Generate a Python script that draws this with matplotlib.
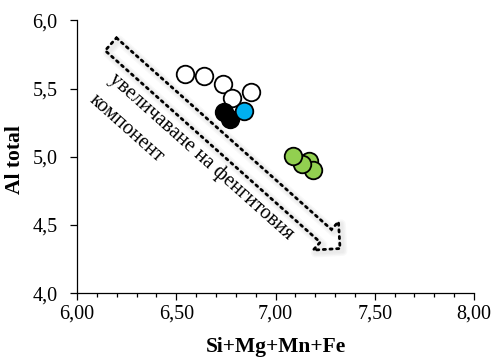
import numpy as np
import matplotlib
matplotlib.use('Agg')
import matplotlib.pyplot as plt
from matplotlib.patches import Polygon
from matplotlib.ticker import MultipleLocator, FuncFormatter

# Si+Mg+Mn+Fe vs Al total, one group per colour
openX = [6.544, 6.641, 6.737, 6.779, 6.875]
openY = [5.607, 5.592, 5.533, 5.428, 5.476]
blackX = [6.741, 6.771]
blackY = [5.327, 5.276]
blueX = [6.841]
blueY = [5.337]
greenX = [7.169, 7.187, 7.132, 7.087]
greenY = [4.966, 4.906, 4.945, 5.004]

arrowTail = (6.170, 5.826)
arrowTip = (7.325, 4.327)
arrowText = 'увеличаване на фенгитовия'
arrowText2 = 'компонент'

plt.rcParams['font.family'] = ['Liberation Serif', 'DejaVu Serif']

fig = plt.figure(figsize=(4.94, 3.57), dpi=100)
ax = fig.add_axes([0.156, 0.179, 0.8035, 0.7636])
ax.set_xlim(6.0, 8.0)
ax.set_ylim(4.0, 6.0)

for side in ['top', 'right']:
  ax.spines[side].set_visible(False)
for side in ['left', 'bottom']:
  ax.spines[side].set_linewidth(0.9)

ax.xaxis.set_major_locator(MultipleLocator(0.5))
ax.xaxis.set_minor_locator(MultipleLocator(0.1))
ax.yaxis.set_major_locator(MultipleLocator(0.5))
ax.xaxis.set_major_formatter(FuncFormatter(lambda v, p: ('%.2f' % v).replace('.', ',')))
ax.yaxis.set_major_formatter(FuncFormatter(lambda v, p: ('%.1f' % v).replace('.', ',')))
ax.tick_params(which='major', direction='out', length=5, width=0.9, labelsize=14.5)
ax.tick_params(axis='x', which='major', pad=3)
ax.tick_params(axis='y', which='major', pad=9)
ax.tick_params(which='minor', direction='out', length=3, width=0.9)

ms = 160
ax.scatter(openX, openY, s=ms, facecolor='white', edgecolor='black', linewidth=1.3, zorder=3)
ax.scatter(blackX, blackY, s=ms, facecolor='black', edgecolor='black', linewidth=1.3, zorder=4)
ax.scatter(blueX, blueY, s=ms, facecolor='#00B0F0', edgecolor='black', linewidth=1.3, zorder=4)
for gx, gy in zip(greenX, greenY):
  ax.scatter([gx], [gy], s=ms, facecolor='#92D050', edgecolor='black', linewidth=1.3, zorder=4)

ax.set_xlabel('Si+Mg+Mn+Fe', fontsize=15.5, fontweight='bold')
ax.set_ylabel('Al total', fontsize=15.5, fontweight='bold')
ax.xaxis.set_label_coords(0.5, -0.16)
ax.yaxis.set_label_coords(-0.13, 0.49)

# dotted block arrow, built in display pixels so it keeps its shape
fig.canvas.draw()
t = ax.transData.transform(arrowTail)
p = ax.transData.transform(arrowTip)
u = (p - t) / np.hypot(*(p - t))
n = np.array([-u[1], u[0]])
bw, hw, hl = 8.5, 19.0, 19.0
b = p - u * hl
pts = np.array([t + n * bw, b + n * bw, b + n * hw, p, b - n * hw, b - n * bw, t - n * bw])

for k, a in enumerate([0.05, 0.05, 0.05]):
  shadow = Polygon(pts + np.array([2.5, -2.5]), closed=True, transform=None, fill=False,
      edgecolor='gray', linewidth=3 + 2 * k, alpha=a, joinstyle='round', zorder=1)
  fig.add_artist(shadow)
arrow = Polygon(pts, closed=True, transform=None, fill=False, edgecolor='black',
    linewidth=2.0, linestyle=(0, (0.8, 1.6)), capstyle='round', zorder=2)
fig.add_artist(arrow)

ang = np.degrees(np.arctan2(p[1] - t[1], p[0] - t[0]))
ax.text(6.625, 5.0, arrowText, fontsize=14.8, rotation=ang, rotation_mode='anchor',
    ha='center', va='center', zorder=5)
ax.text(6.250, 5.21, arrowText2, fontsize=14.8, rotation=ang, rotation_mode='anchor',
    ha='center', va='center', zorder=5)

fig.savefig('out.png', dpi=100)
